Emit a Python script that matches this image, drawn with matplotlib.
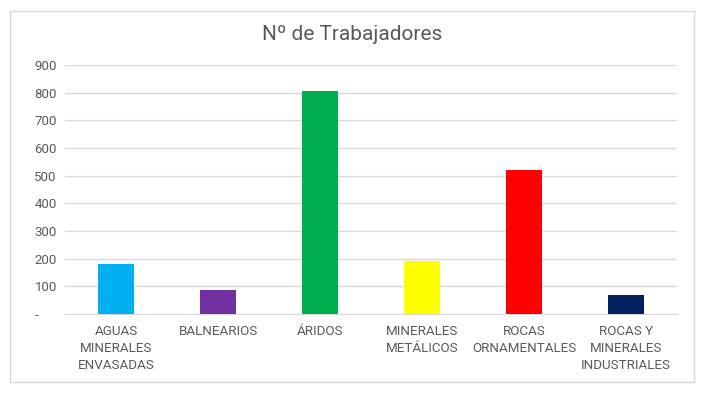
import matplotlib
matplotlib.use("Agg")
import matplotlib.pyplot as plt
from matplotlib.patches import Rectangle
from matplotlib.ticker import FuncFormatter

# ---- data ----
categories = ["AGUAS\nMINERALES\nENVASADAS", "BALNEARIOS", "ÁRIDOS",
              "MINERALES\nMETÁLICOS", "ROCAS\nORNAMENTALES",
              "ROCAS Y\nMINERALES\nINDUSTRIALES"]
workers = [182, 88, 807, 192, 520, 69]
bar_colors = ["#00B0F0", "#7030A0", "#00B050", "#FFFF00", "#FF0000", "#002060"]
y_ticks = [0, 100, 200, 300, 400, 500, 600, 700, 800, 900]

TEXT = "#595959"
GRID = "#D9D9D9"
plt.rcParams['font.family'] = ['Roboto', 'DejaVu Sans']

fig = plt.figure(figsize=(7.06, 3.94), dpi=100, facecolor="white")
fig.patches.append(Rectangle((10/706, 12/394), 684/706, 371/394, transform=fig.transFigure,
                             fill=False, edgecolor=GRID, linewidth=1))

ax = fig.add_axes([65/706, 1 - 314/394, 612/706, 249/394])
x = range(len(categories))
ax.bar(x, workers, width=0.36, color=bar_colors, zorder=3)

ax.set_xlim(-0.5, len(categories) - 0.5)
ax.set_ylim(0, 900)
ax.set_yticks(y_ticks)
ax.yaxis.set_major_formatter(FuncFormatter(lambda v, p: "-" if v == 0 else f"{int(v)}"))
ax.set_xticks(list(x))
ax.set_xticklabels(categories, fontsize=9.6, color=TEXT, linespacing=1.4, va="top")
ax.tick_params(axis="y", labelsize=9.5, labelcolor=TEXT, length=0, pad=22)
ax.tick_params(axis="x", length=0, pad=8)
for lab in ax.get_yticklabels():
    lab.set_horizontalalignment("left")

ax.grid(axis="y", color=GRID, linewidth=1, zorder=0)
for s in ["top", "right", "left"]:
    ax.spines[s].set_visible(False)
ax.spines["bottom"].set_color(GRID)

fig.text(352/706, 1 - 35/394, "Nº de Trabajadores", ha="center", va="center",
         fontsize=15, color=TEXT)

fig.savefig("out.png", dpi=100, facecolor="white")
